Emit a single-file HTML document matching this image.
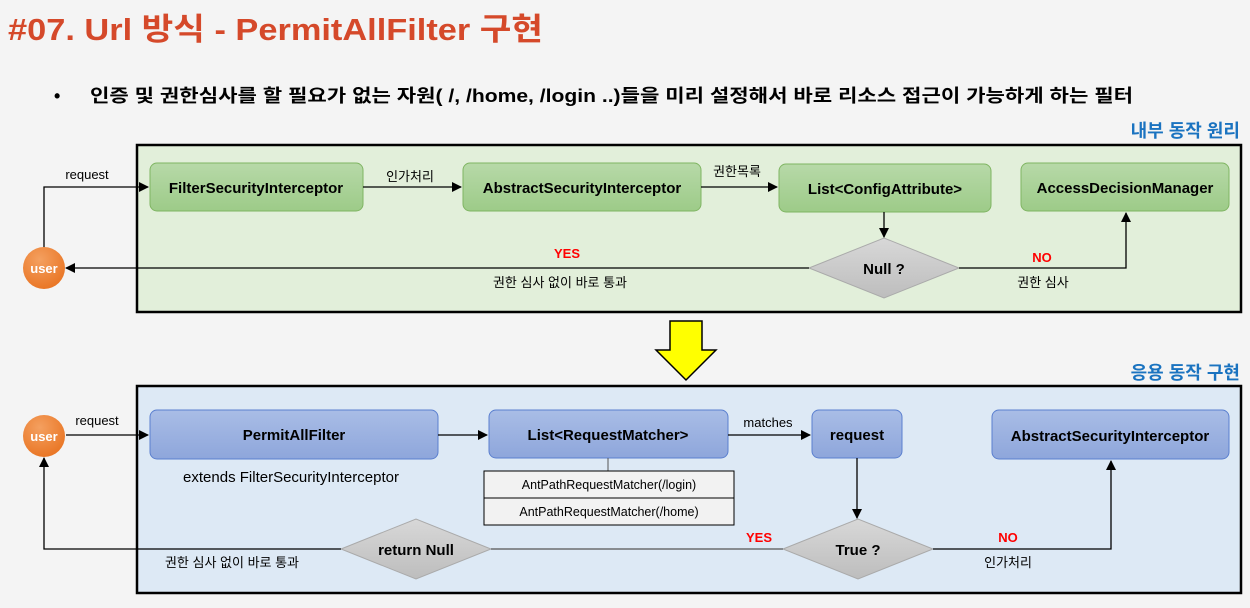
<!DOCTYPE html>
<html><head><meta charset="utf-8"><style>body{margin:0;background:#f4f4f4}svg{display:block}</style></head>
<body>
<svg width="1250" height="608" xmlns="http://www.w3.org/2000/svg" font-family="'Liberation Sans','Noto Sans CJK KR',sans-serif">
<defs>
<linearGradient id="g" x1="0" y1="0" x2="0" y2="1"><stop offset="0" stop-color="#b7d9a8"/><stop offset="1" stop-color="#9dcb88"/></linearGradient>
<linearGradient id="b" x1="0" y1="0" x2="0" y2="1"><stop offset="0" stop-color="#a9bde6"/><stop offset="1" stop-color="#8ea6db"/></linearGradient>
<linearGradient id="d" x1="0" y1="0" x2="0" y2="1"><stop offset="0" stop-color="#d8d8d8"/><stop offset="1" stop-color="#bdbdbd"/></linearGradient>
<radialGradient id="o" cx="0.4" cy="0.3" r="0.8"><stop offset="0" stop-color="#f4a060"/><stop offset="1" stop-color="#e8711e"/></radialGradient>
<marker id="a" markerWidth="10" markerHeight="10" refX="9" refY="5" orient="auto" markerUnits="userSpaceOnUse"><path d="M0,0 L10,5 L0,10 z" fill="#000"/></marker>
</defs>
<rect width="1250" height="608" fill="#f4f4f4"/>
<text x="8" y="40" font-size="31" font-weight="bold" fill="#d5492a" textLength="535" lengthAdjust="spacingAndGlyphs">#07. Url 방식 - PermitAllFilter 구현</text>
<text x="54" y="102" font-size="18" font-weight="bold">•</text>
<text x="90" y="102" font-size="18" font-weight="bold" textLength="1043" lengthAdjust="spacingAndGlyphs">인증 및 권한심사를 할 필요가 없는 자원( /, /home, /login ..)들을 미리 설정해서 바로 리소스 접근이 가능하게 하는 필터</text>
<text x="1240" y="137" font-size="18" font-weight="bold" fill="#1a73c0" text-anchor="end">내부 동작 원리</text>
<rect x="137" y="145" width="1104" height="167" fill="#e2efda" stroke="#000" stroke-width="2.5"/>
<g stroke="#7fb562" stroke-width="1" fill="url(#g)">
<rect x="150" y="163" width="213" height="48" rx="7"/>
<rect x="463" y="163" width="238" height="48" rx="7"/>
<rect x="779" y="164" width="212" height="48" rx="7"/>
<rect x="1021" y="163" width="208" height="48" rx="7"/>
</g>
<g font-size="15" font-weight="bold" text-anchor="middle">
<text x="256" y="193">FilterSecurityInterceptor</text>
<text x="582" y="193">AbstractSecurityInterceptor</text>
<text x="885" y="194">List&lt;ConfigAttribute&gt;</text>
<text x="1125" y="193">AccessDecisionManager</text>
</g>
<polygon points="809,268 884,238 959,268 884,298" fill="url(#d)" stroke="#aaa"/>
<text x="884" y="274" font-size="15" font-weight="bold" text-anchor="middle">Null ?</text>
<g stroke="#000" stroke-width="1.3" fill="none">
<polyline points="44,250 44,187 148,187" marker-end="url(#a)"/>
<line x1="363" y1="187" x2="461" y2="187" marker-end="url(#a)"/>
<line x1="701" y1="187" x2="777" y2="187" marker-end="url(#a)"/>
<line x1="884" y1="212" x2="884" y2="237" marker-end="url(#a)"/>
<line x1="809" y1="268" x2="66" y2="268" marker-end="url(#a)"/>
<polyline points="959,268 1126,268 1126,213" marker-end="url(#a)"/>
</g>
<circle cx="44" cy="268" r="21" fill="url(#o)"/>
<text x="44" y="273" font-size="13" font-weight="bold" fill="#fff" text-anchor="middle">user</text>
<g font-size="13" text-anchor="middle">
<text x="87" y="179">request</text>
<text x="410" y="181">인가처리</text>
<text x="737" y="176">권한목록</text>
<text x="560" y="287">권한 심사 없이 바로 통과</text>
<text x="1043" y="287">권한 심사</text>
</g>
<g font-size="13" font-weight="bold" fill="#f00" text-anchor="middle">
<text x="567" y="258">YES</text><text x="1042" y="262">NO</text>
</g>
<polygon points="670,321 702,321 702,350 716,350 686,380 656,350 670,350" fill="#ffff00" stroke="#000" stroke-width="1.5"/>
<text x="1240" y="379" font-size="18" font-weight="bold" fill="#1a73c0" text-anchor="end">응용 동작 구현</text>
<rect x="137" y="386" width="1104" height="207" fill="#dde9f5" stroke="#000" stroke-width="2.5"/>
<g stroke="#5a7fcf" stroke-width="1" fill="url(#b)">
<rect x="150" y="410" width="288" height="49" rx="7"/>
<rect x="489" y="410" width="239" height="48" rx="7"/>
<rect x="812" y="410" width="90" height="48" rx="7"/>
<rect x="992" y="410" width="237" height="49" rx="7"/>
</g>
<g font-size="15" font-weight="bold" text-anchor="middle">
<text x="294" y="440">PermitAllFilter</text>
<text x="608" y="440">List&lt;RequestMatcher&gt;</text>
<text x="857" y="440">request</text>
<text x="1110" y="441">AbstractSecurityInterceptor</text>
</g>
<line x1="608" y1="458" x2="608" y2="471" stroke="#555"/>
<rect x="484" y="471" width="250" height="54" fill="#f2f2f2" stroke="#000"/>
<line x1="484" y1="498" x2="734" y2="498" stroke="#000"/>
<g font-size="12.5" text-anchor="middle">
<text x="609" y="489">AntPathRequestMatcher(/login)</text>
<text x="609" y="516">AntPathRequestMatcher(/home)</text>
</g>
<polygon points="341,549 416,519 491,549 416,579" fill="url(#d)" stroke="#aaa"/>
<polygon points="783,549 858,519 933,549 858,579" fill="url(#d)" stroke="#aaa"/>
<text x="416" y="555" font-size="15" font-weight="bold" text-anchor="middle">return Null</text>
<text x="858" y="555" font-size="15" font-weight="bold" text-anchor="middle">True ?</text>
<g stroke="#000" stroke-width="1.3" fill="none">
<line x1="66" y1="435" x2="148" y2="435" marker-end="url(#a)"/>
<line x1="438" y1="435" x2="487" y2="435" marker-end="url(#a)"/>
<line x1="728" y1="435" x2="810" y2="435" marker-end="url(#a)"/>
<line x1="857" y1="458" x2="857" y2="518" marker-end="url(#a)"/>
<line x1="491" y1="549" x2="783" y2="549" stroke="#555"/>
<polyline points="341,549 44,549 44,458" marker-end="url(#a)"/>
<polyline points="933,549 1111,549 1111,461" marker-end="url(#a)"/>
</g>
<circle cx="44" cy="436" r="21" fill="url(#o)"/>
<text x="44" y="441" font-size="13" font-weight="bold" fill="#fff" text-anchor="middle">user</text>
<g font-size="13" text-anchor="middle">
<text x="97" y="425">request</text>
<text x="768" y="427">matches</text>
<text x="232" y="567">권한 심사 없이 바로 통과</text>
<text x="1008" y="567">인가처리</text>
</g>
<text x="291" y="482" font-size="15" text-anchor="middle">extends FilterSecurityInterceptor</text>
<g font-size="13" font-weight="bold" fill="#f00" text-anchor="middle">
<text x="759" y="542">YES</text><text x="1008" y="542">NO</text>
</g>
</svg>
</body></html>
